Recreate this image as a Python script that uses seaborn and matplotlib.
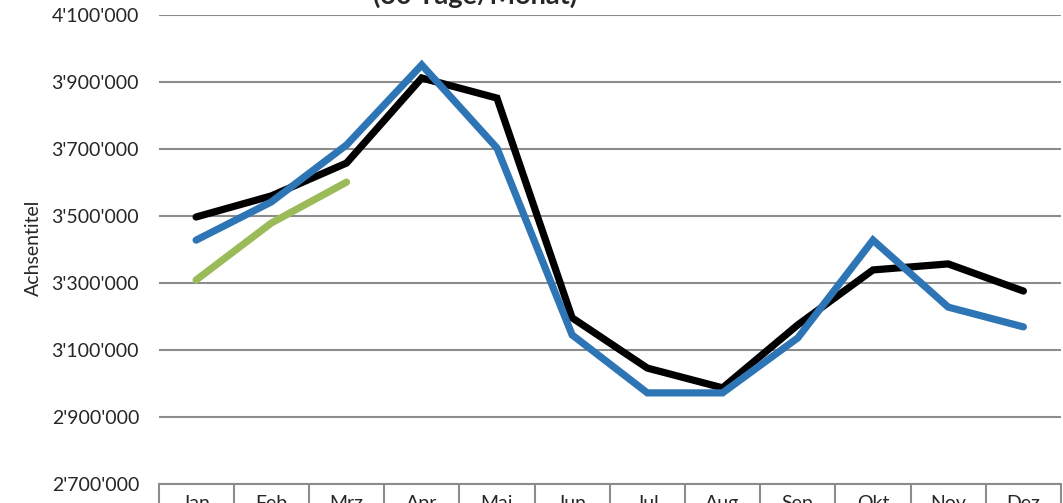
import pandas as pd
import seaborn as sns
import matplotlib.pyplot as plt
from matplotlib.ticker import FuncFormatter, FixedLocator

months = ["Jan", "Feb", "Mrz", "Apr", "Mai", "Jun", "Jul", "Aug", "Sep", "Okt", "Nov", "Dez"]

# values
black_vals = [3497000, 3560000, 3658000, 3912000, 3852000, 3196000,
              3046000, 2987000, 3175000, 3339000, 3357000, 3276000]
blue_vals = [3428000, 3542000, 3712000, 3951000, 3703000, 3145000,
             2972000, 2972000, 3136000, 3428000, 3228000, 3169000]
green_vals = [3309000, 3479000, 3601000]

sns.set_theme(style="white")
plt.rcParams['font.family'] = ['Lato', 'DejaVu Sans']

W, H = 1063, 503
fig = plt.figure(figsize=(W / 100, H / 100), dpi=100)
left, right, top, bottom = 158.5, 1061, 15, 484
ax = fig.add_axes([left / W, (H - bottom) / H, (right - left) / W, (bottom - top) / H])

pos = list(range(len(months)))
series = [
    (black_vals, "black"),
    (blue_vals, "#2E75B6"),
    (green_vals, "#9BBB59"),
]
for vals, col in series:
    df = pd.DataFrame({"pos": pos[:len(vals)], "value": vals})
    sns.lineplot(data=df, x="pos", y="value", color=col, linewidth=5.2,
                 solid_capstyle="round", solid_joinstyle="miter", ax=ax)

ax.set_xlim(-0.5, 11.5)
ax.set_ylim(2700000, 4100000)
ax.set_yticks(range(2700000, 4100001, 200000))
ax.yaxis.set_major_formatter(FuncFormatter(lambda v, p: f"{int(v):,}".replace(",", "'")))
ax.yaxis.grid(True, color="#8c8c8c", linewidth=1.5)
ax.set_axisbelow(True)
ax.tick_params(axis="y", length=0, pad=14, labelsize=14, labelcolor="#262626")

ax.set_xticks(pos)
ax.set_xticklabels(months)
ax.xaxis.set_minor_locator(FixedLocator([p - 0.5 for p in pos] + [11.5]))
ax.tick_params(axis="x", which="major", length=0, pad=8, labelsize=14, labelcolor="#262626")
ax.tick_params(axis="x", which="minor", bottom=True, length=30, width=1.5,
               color="#8c8c8c", direction="out")

for s in ["left", "right", "top"]:
    ax.spines[s].set_visible(False)
ax.spines["bottom"].set_color("#8c8c8c")
ax.spines["bottom"].set_linewidth(1.5)

ax.set_xlabel("")
ax.set_ylabel("Achsentitel", fontsize=14, color="#262626")
ax.yaxis.set_label_coords((42 - left) / (right - left), (bottom - 248) / (bottom - top))

fig.text(475 / W, 1 - 4 / H, "(30 Tage/Monat)", ha="center", va="baseline",
         fontsize=19.5, fontweight="bold", color="#262626")

fig.savefig("out.png", dpi=100)
